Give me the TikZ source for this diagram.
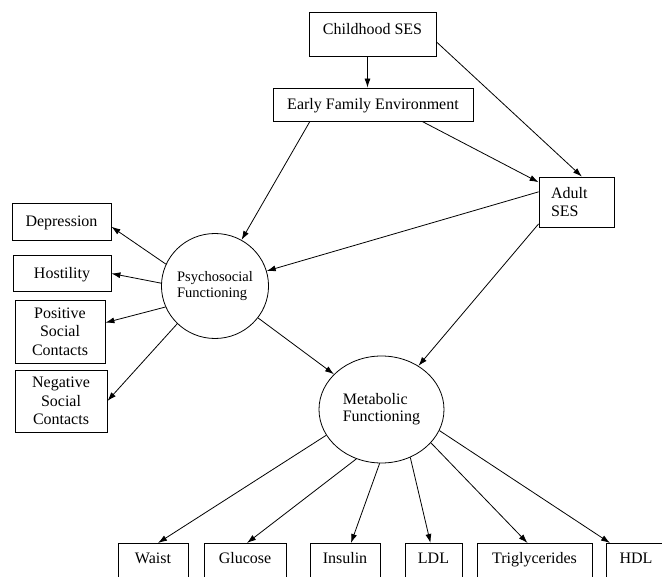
\documentclass[tikz,border=0pt]{standalone}
\usepackage{fontspec}
\setmainfont{Liberation Serif}
\usetikzlibrary{arrows.meta,shapes.geometric}

\begin{document}
\begin{tikzpicture}[x=1pt, y=-1pt, line width=0.8pt,
        box/.style={draw, inner sep=0pt, align=center, font=\fontsize{16}{18.5}\selectfont},
        oneline/.style={text height=11pt, text depth=0pt},
        lowbox/.style={box, anchor=north, minimum height=0pt, inner ysep=9pt, text height=11pt, text depth=24pt},
        latent/.style={draw, ellipse, inner sep=0pt, align=left},
        arr/.style={-{Latex[length=9pt,width=6pt]}}]
    \clip (0,0) rectangle (662,577);

    \node[box, minimum width=127pt, minimum height=44pt, inner ysep=4pt, text height=19pt, text depth=17pt] (child) at (372.5,34) {Childhood SES};
    \node[box, oneline, minimum width=200pt, minimum height=33pt] (early) at (373,104.5) {Early Family Environment};
    \node[box, align=left, text width=51pt, inner xsep=12pt, minimum height=50pt] (adult) at (576.5,202) {Adult\\SES};

    \node[latent, minimum width=105pt, minimum height=105pt, font=\fontsize{14.5}{15.5}\selectfont] (psych) at (215,286) {Psychosocial\\Functioning};
    \node[latent, minimum width=125pt, minimum height=107pt, font=\fontsize{16}{17}\selectfont] (metab) at (381.5,409.5) {Metabolic\\Functioning};

    % indicators of psychosocial functioning
    \node[box, oneline, minimum width=99pt, minimum height=37pt] (dep) at (61.5,221.5) {Depression};
    \node[box, oneline, minimum width=98pt, minimum height=36pt] (host) at (62,273.5) {Hostility};
    \node[box, minimum width=90pt, minimum height=63pt] (pos) at (60,331.5) {Positive\\Social\\Contacts};
    \node[box, minimum width=92pt, minimum height=62pt] (neg) at (61,401) {Negative\\Social\\Contacts};

    % indicators of metabolic functioning
    \node[lowbox, minimum width=70pt] (waist) at (153,543) {Waist};
    \node[lowbox, minimum width=82pt] (gluc) at (245,543) {Glucose};
    \node[lowbox, minimum width=70pt] (insul) at (345,543) {Insulin};
    \node[lowbox, minimum width=57pt] (ldl) at (433.5,543) {LDL};
    \node[lowbox, minimum width=115pt] (trig) at (534.5,543) {Triglycerides};
    \node[lowbox, minimum width=60pt] (hdl) at (636,543) {HDL};

    \draw[arr] ([xshift=-5pt]child.south) -- ([xshift=-5pt]child.south |- early.north);
    \draw[arr] (child.-7) -- (adult.78);
    \draw[arr] (early.-19) -- (adult);
    \draw[arr] (early.195) -- (psych);
    \draw[arr] (adult.165) -- (psych);
    \draw[arr] (adult.210) -- (metab);
    \draw[arr] (psych) -- (metab);

    \draw[arr] (psych.156) -- (dep.-6);
    \draw[arr] (psych.177) -- (host.east);
    \draw[arr] (psych.203) -- (pos.11);
    \draw[arr] (psych.225) -- (neg.east);

    \draw[arr] (metab.205) -- ([xshift=5pt]waist.north);
    \draw[arr] (metab.243) -- ([xshift=2pt]gluc.north);
    \draw[arr] (metab.268) -- ([xshift=6pt]insul.north);
    \draw[arr] (metab.301) -- ([xshift=-3pt]ldl.north);
    \draw[arr] (metab.326) -- ([xshift=-7pt]trig.north);
    \draw[arr] (metab.340) -- ([xshift=-26pt]hdl.north);
\end{tikzpicture}
\end{document}
